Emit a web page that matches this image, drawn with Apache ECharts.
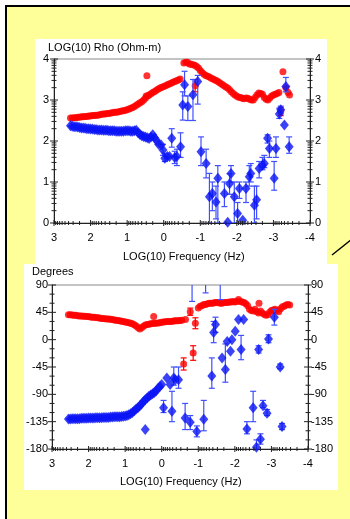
<!DOCTYPE html>
<html><head><meta charset="utf-8">
<script src="https://cdn.jsdelivr.net/npm/echarts@6/dist/echarts.min.js"></script>
<style>html,body{margin:0;padding:0;background:#fff}#c{width:350px;height:519px}</style>
</head><body><div id="c"></div>
<script>
// ---------- DATA (log10 frequency, value) ----------
const rhoTitle = 'LOG(10) Rho (Ohm-m)';
const phaseTitle = 'Degrees';
const xTitle = 'LOG(10) Frequency (Hz)';
const xTicks = [3, 2, 1, 0, -1, -2, -3, -4];
const rhoTicks = [0, 1, 2, 3, 4];
const phaseTicks = [-180, -135, -90, -45, 0, 45, 90];

// Apparent resistivity, red (one component)
const rhoRed = [[2.55,2.56],[2.50,2.56],[2.45,2.57],[2.40,2.57],[2.35,2.58],[2.30,2.58],[2.25,2.59],[2.20,2.59],[2.15,2.60],[2.10,2.60],[2.05,2.61],[2.00,2.61],[1.95,2.62],[1.90,2.62],[1.85,2.63],[1.80,2.63],[1.75,2.64],[1.70,2.65],[1.65,2.66],[1.60,2.66],[1.55,2.67],[1.50,2.67],[1.45,2.68],[1.40,2.69],[1.35,2.70],[1.30,2.70],[1.25,2.71],[1.20,2.72],[1.15,2.73],[1.10,2.74],[1.05,2.75],[1.00,2.76],[0.95,2.78],[0.90,2.80],[0.85,2.82],[0.80,2.84],[0.75,2.87],[0.70,2.90],[0.65,2.93],[0.60,2.96],[0.55,3.00],[0.50,3.04],[0.48,3.10],[0.46,3.59],[0.44,3.10],[0.40,3.12],[0.35,3.15],[0.30,3.18],[0.25,3.21],[0.20,3.24],[0.15,3.27],[0.10,3.29],[0.05,3.31],[0.00,3.33],[-0.05,3.35],[-0.10,3.37],[-0.15,3.39],[-0.20,3.41],[-0.25,3.43],[-0.30,3.45],[-0.35,3.47],[-0.40,3.49],[-0.45,3.51],[-0.55,3.90],[-0.60,3.92],[-0.65,3.92],[-0.70,3.88],[-0.75,3.87],[-0.80,3.86],[-0.85,3.85],[-0.86,3.35],[-0.90,3.82],[-0.95,3.78],[-1.00,3.72],[-1.05,3.67],[-1.10,3.63],[-1.15,3.60],[-1.20,3.58],[-1.25,3.56],[-1.30,3.53],[-1.35,3.51],[-1.40,3.49],[-1.45,3.47],[-1.50,3.44],[-1.55,3.41],[-1.60,3.38],[-1.65,3.35],[-1.70,3.32],[-1.75,3.29],[-1.80,3.25],[-1.85,3.20],[-1.90,3.16],[-1.95,3.12],[-2.00,3.09],[-2.05,3.07],[-2.10,3.06],[-2.15,3.04],[-2.20,3.03],[-2.25,3.05],[-2.30,3.04],[-2.35,3.02],[-2.40,3.00],[-2.45,3.00],[-2.50,3.06],[-2.55,3.12],[-2.60,3.17],[-2.65,3.16],[-2.70,3.14],[-2.75,3.06],[-2.80,3.02],[-2.85,3.00],[-2.90,3.05],[-2.95,3.10],[-3.00,3.12],[-3.05,3.14],[-3.10,3.16],[-3.15,3.18],[-3.20,2.72],[-3.26,3.69],[-3.34,3.30],[-3.40,3.18],[-3.44,3.12]];
const rhoRedErr = [[-0.86,3.20,3.50],[-3.20,2.62,2.82]];

// Apparent resistivity, blue (other component)
const rhoBlue = [[2.55,2.37],[2.50,2.36],[2.45,2.35],[2.40,2.35],[2.35,2.34],[2.30,2.33],[2.25,2.32],[2.20,2.32],[2.15,2.31],[2.10,2.30],[2.05,2.30],[2.00,2.29],[1.95,2.29],[1.90,2.28],[1.85,2.28],[1.80,2.27],[1.75,2.27],[1.70,2.27],[1.65,2.26],[1.60,2.26],[1.55,2.26],[1.50,2.25],[1.45,2.25],[1.40,2.25],[1.35,2.25],[1.30,2.24],[1.25,2.24],[1.20,2.24],[1.15,2.24],[1.10,2.24],[1.05,2.25],[1.00,2.25],[0.95,2.25],[0.90,2.24],[0.85,2.24],[0.80,2.25],[0.75,2.26],[0.70,2.20],[0.65,2.16],[0.60,2.13],[0.55,2.11],[0.50,2.10],[0.45,2.08],[0.40,2.06],[0.35,2.10],[0.30,2.15],[0.25,2.08],[0.20,2.02],[0.14,1.92],[0.07,1.90],[0.02,1.78],[-0.03,1.58],[-0.10,1.62],[-0.16,1.62],[-0.22,2.07],[-0.30,1.60],[-0.36,1.62],[-0.46,1.86],[-0.52,2.88],[-0.57,3.37],[-0.66,2.84],[-0.80,3.13],[-0.93,3.45],[-1.02,1.74],[-1.16,1.45],[-1.25,0.64],[-1.33,0.72],[-1.43,0.51],[-1.48,1.09],[-1.66,0.72],[-1.75,0.02],[-1.80,0.96],[-1.84,1.21],[-1.93,0.64],[-2.02,0.23],[-2.07,0.84],[-2.16,0.07],[-2.25,0.84],[-2.34,1.13],[-2.38,1.21],[-2.48,0.43],[-2.54,0.57],[-2.61,1.33],[-2.70,1.41],[-2.75,1.45],[-2.84,2.07],[-2.89,1.82],[-3.02,1.09],[-3.07,1.82],[-3.16,2.66],[-3.20,2.76],[-3.30,2.39],[-3.34,3.33],[-3.43,1.86]];
const rhoBlueErr = [[0.02,1.65,1.92],[-0.03,1.50,1.70],[-0.22,1.85,2.30],[-0.30,1.45,1.75],[-0.36,1.40,1.80],[-0.46,1.60,2.20],[-0.52,2.51,3.20],[-0.57,3.10,3.70],[-0.66,2.50,3.10],[-0.80,2.50,3.50],[-0.93,2.90,3.60],[-1.02,1.40,2.10],[-1.16,1.10,1.80],[-1.25,0.00,1.21],[-1.33,0.30,1.00],[-1.43,0.10,0.90],[-1.48,0.00,1.40],[-1.66,0.40,1.00],[-1.80,0.70,1.20],[-1.84,1.00,1.40],[-1.93,0.00,1.00],[-2.02,0.00,0.50],[-2.07,0.60,1.00],[-2.25,0.50,1.00],[-2.34,0.90,1.40],[-2.38,1.00,1.45],[-2.48,0.00,0.90],[-2.54,0.10,0.90],[-2.61,1.10,1.50],[-2.70,1.30,1.60],[-2.75,1.35,1.65],[-2.84,1.95,2.15],[-2.89,1.60,2.00],[-3.02,0.80,1.50],[-3.07,1.60,2.10],[-3.16,2.55,2.80],[-3.20,2.70,2.85],[-3.34,3.20,3.55],[-3.43,1.70,2.10]];

// Phase, red
const phaseRed = [[2.55,41],[2.50,41],[2.45,40.5],[2.40,40],[2.35,40],[2.30,39.5],[2.25,39],[2.20,39],[2.15,38.5],[2.10,38.5],[2.05,38],[2.00,38],[1.95,37.5],[1.90,37],[1.85,37],[1.80,36.5],[1.75,36],[1.70,35.5],[1.65,35],[1.60,35],[1.55,34.5],[1.50,34],[1.45,34],[1.40,33.5],[1.35,33],[1.30,32.5],[1.25,32],[1.20,31.5],[1.15,31],[1.10,30.5],[1.05,30],[1.00,29],[0.95,28.5],[0.90,28],[0.85,27],[0.80,26],[0.75,24.5],[0.70,22.5],[0.65,20],[0.60,17.5],[0.55,19.5],[0.50,22],[0.45,24],[0.40,25],[0.35,25.5],[0.30,26],[0.25,26.5],[0.22,38],[0.20,27],[0.15,27],[0.10,27.5],[0.05,28],[0.00,28.5],[-0.05,29],[-0.10,29.5],[-0.15,30],[-0.20,30],[-0.25,30],[-0.30,30.5],[-0.35,31],[-0.40,31],[-0.45,31],[-0.50,31.5],[-0.55,32],[-0.60,-40],[-0.65,33],[-0.78,46],[-0.86,-22],[-0.92,27],[-1.00,52],[-1.05,55],[-1.10,56],[-1.15,58],[-1.20,58],[-1.25,59],[-1.30,60],[-1.35,60],[-1.40,60],[-1.45,61],[-1.50,61],[-1.55,61],[-1.60,60],[-1.65,60],[-1.70,61],[-1.75,61],[-1.80,61],[-1.85,62],[-1.90,62],[-1.95,63],[-2.00,62],[-2.05,63],[-2.10,66],[-2.15,63],[-2.20,62],[-2.25,61],[-2.30,59],[-2.35,56],[-2.40,50],[-2.45,48],[-2.50,47],[-2.55,50],[-2.60,46],[-2.65,44],[-2.66,60],[-2.70,47],[-2.75,44],[-2.80,42],[-2.85,40],[-2.90,41],[-2.95,45],[-3.00,48],[-3.05,49],[-3.10,50],[-3.15,48],[-3.20,46],[-3.25,51],[-3.30,54],[-3.35,55],[-3.40,57],[-3.45,58],[-3.50,57]];
const phaseRedErr = [[-0.60,-50,-30],[-0.78,40,52],[-0.86,-34,-10],[-0.92,18,36]];

// Phase, blue
const phaseBlue = [[2.55,-130.5],[2.50,-130.5],[2.45,-130],[2.40,-130],[2.35,-130],[2.30,-130],[2.25,-130],[2.20,-129.5],[2.15,-129.5],[2.10,-129.5],[2.05,-129.5],[2.00,-129],[1.95,-129],[1.90,-129],[1.85,-129],[1.80,-128.5],[1.75,-128.5],[1.70,-128.5],[1.65,-128.5],[1.60,-128],[1.55,-128],[1.50,-128],[1.45,-128],[1.40,-127.5],[1.35,-127.5],[1.30,-127],[1.25,-127],[1.20,-127],[1.15,-127],[1.10,-126.5],[1.05,-126],[1.00,-125.5],[0.95,-125],[0.90,-123.5],[0.85,-122],[0.80,-120],[0.75,-117],[0.70,-114],[0.65,-112],[0.60,-109],[0.55,-106],[0.50,-102],[0.45,-148],[0.45,-99],[0.40,-96],[0.35,-93],[0.30,-91],[0.25,-89],[0.20,-87],[0.15,-84],[0.10,-80],[0.05,-77],[0.00,-74],[-0.05,-112],[-0.14,-63],[-0.23,-74],[-0.28,-118],[-0.33,-63],[-0.37,-66],[-0.46,-66],[-0.64,-129],[-0.78,-136],[-0.83,110],[-0.96,-151],[-1.15,-131],[-1.20,120],[-1.37,-60],[-1.42,12],[-1.47,25],[-1.60,115],[-1.65,-30],[-1.74,-49],[-1.79,-3],[-1.88,-19],[-1.92,0],[-2.01,14],[-2.10,33],[-2.17,-16],[-2.24,33],[-2.33,-147],[-2.50,-112],[-2.59,-177],[-2.65,-16],[-2.70,-164],[-2.77,-109],[-2.88,-121],[-2.92,1],[-3.08,37],[-3.24,-45],[-3.29,-143]];
const phaseBlueErr = [[-0.05,-120,-100],[-0.28,-135,-85],[-0.33,-75,-45],[-0.46,-80,-45],[-0.64,-148,-105],[-0.78,-148,-125],[-0.83,63,160],[-0.96,-160,-142],[-1.15,-150,-100],[-1.20,77,160],[-1.37,-80,-30],[-1.42,-5,30],[-1.47,12,37],[-1.60,66,160],[-1.74,-70,-7],[-2.17,-33,7],[-2.33,-155,-135],[-2.50,-135,-85],[-2.59,-185,-165],[-2.65,-22,-10],[-2.70,-172,-155],[-2.77,-112,-100],[-2.88,-125,-115],[-2.92,-5,8],[-3.08,24,50],[-3.24,-48,-40],[-3.29,-148,-138]];

// ---------- TICKS ----------
function logMinor(lo, hi) { const out = []; for (let d = lo; d < hi; d++) for (let k = 2; k <= 9; k++) out.push(d + Math.log10(k)); return out; }
const X0 = 3, X1 = -4;
function tickItems(yMin, yMax, yMajor, yMinor) {
  const items = [];
  xTicks.forEach(v => items.push([v, yMin, 1, 3]));
  logMinor(-4, 3).forEach(v => items.push([v, yMin, 1, 2]));
  [X0, X1].forEach(x => {
    yMajor.forEach(v => items.push([x, v, 0, 4]));
    yMinor.forEach(v => items.push([x, v, 0, 2.5]));
  });
  return items;
}
const phaseMinor = [];
for (let v = -165; v < 90; v += 15) if (v % 45 !== 0) phaseMinor.push(v);

const tickRender = (params, api) => {
  const p = api.coord([api.value(0), api.value(1)]);
  const o = api.value(2), L = api.value(3);
  const shape = o === 1 ? {x1: p[0], y1: p[1] - L, x2: p[0], y2: p[1] + L} : {x1: p[0] - L, y1: p[1], x2: p[0] + L, y2: p[1]};
  return {type: 'line', shape, style: {stroke: '#222', lineWidth: 1}};
};
const errRender = (color) => (params, api) => {
  const a = api.coord([api.value(0), api.value(1)]);
  const b = api.coord([api.value(0), api.value(2)]);
  const w = 3;
  return {type: 'group', children: [
    {type: 'line', shape: {x1: a[0], y1: a[1], x2: b[0], y2: b[1]}, style: {stroke: color, lineWidth: 1.2}},
    {type: 'line', shape: {x1: a[0] - w, y1: a[1], x2: a[0] + w, y2: a[1]}, style: {stroke: color, lineWidth: 1.2}},
    {type: 'line', shape: {x1: b[0] - w, y1: b[1], x2: b[0] + w, y2: b[1]}, style: {stroke: color, lineWidth: 1.2}}
  ]};
};

const FONT = 'Liberation Sans, Arial, sans-serif';
const RED = '#ff0000', BLUE = '#0a14f5', BLUE_ERR = '#4050ff';
const axisLabel = {color: '#000', fontSize: 11, fontFamily: FONT};
function xAx(gi) {
  return {gridIndex: gi, type: 'value', min: -4, max: 3, interval: 1, inverse: true,
    axisLine: {onZero: false, lineStyle: {color: '#222', width: 1}}, axisTick: {show: false}, splitLine: {show: false},
    axisLabel: Object.assign({margin: 9}, axisLabel)};
}
function yAx(gi, min, max, interval, pos, margin) {
  return {gridIndex: gi, type: 'value', min, max, interval, position: pos,
    axisLine: {show: true, onZero: false, lineStyle: {color: '#222', width: 1}}, axisTick: {show: false}, splitLine: {show: false},
    axisLabel: Object.assign({margin}, axisLabel)};
}

const chart = echarts.init(document.getElementById('c'), null, {renderer: 'canvas'});
chart.setOption({
  animation: false,
  backgroundColor: '#fff',
  graphic: {elements: [
    {type: 'rect', z: -10, shape: {x: 6, y: 6, width: 360, height: 530}, style: {fill: '#ffff99', stroke: '#000', lineWidth: 2}},
    {type: 'rect', z: -9, shape: {x: 35, y: 39, width: 292, height: 226}, style: {fill: '#fff'}},
    {type: 'rect', z: -9, shape: {x: 24, y: 264, width: 314, height: 226}, style: {fill: '#fff'}},
    {type: 'line', z: -8, shape: {x1: 332, y1: 255, x2: 352, y2: 239}, style: {stroke: '#000', lineWidth: 1.5}},
    {type: 'text', left: 48, top: 42, style: {text: rhoTitle, fill: '#000', font: '11px ' + FONT}},
    {type: 'text', left: 32, top: 266, style: {text: phaseTitle, fill: '#000', font: '11px ' + FONT}},
    {type: 'text', left: 123, top: 251, style: {text: xTitle, fill: '#000', font: '11px ' + FONT}},
    {type: 'text', left: 120, top: 476, style: {text: xTitle, fill: '#000', font: '11px ' + FONT}}
  ]},
  grid: [
    {left: 54, top: 59, width: 256, height: 164, show: true, borderColor: '#888', borderWidth: 1, backgroundColor: 'transparent'},
    {left: 52, top: 285, width: 256, height: 164, show: true, borderColor: '#888', borderWidth: 1, backgroundColor: 'transparent'}
  ],
  xAxis: [xAx(0), xAx(1)],
  yAxis: [
    yAx(0, 0, 4, 1, 'left', 5), yAx(0, 0, 4, 1, 'right', 5),
    yAx(1, -180, 90, 45, 'left', 4), yAx(1, -180, 90, 45, 'right', 3)
  ],
  series: [
    {type: 'custom', xAxisIndex: 0, yAxisIndex: 0, renderItem: tickRender, data: tickItems(0, 4, rhoTicks, logMinor(0, 4)), silent: true, z: 5},
    {type: 'custom', xAxisIndex: 1, yAxisIndex: 2, renderItem: tickRender, data: tickItems(-180, 90, phaseTicks, phaseMinor), silent: true, z: 5},
    {type: 'custom', xAxisIndex: 0, yAxisIndex: 0, renderItem: errRender(RED), data: rhoRedErr, clip: true, z: 3},
    {type: 'scatter', xAxisIndex: 0, yAxisIndex: 0, data: rhoRed, symbol: 'circle', symbolSize: 7, itemStyle: {color: RED}, clip: true, z: 3},
    {type: 'custom', xAxisIndex: 0, yAxisIndex: 0, renderItem: errRender(BLUE_ERR), data: rhoBlueErr, clip: true, z: 4},
    {type: 'scatter', xAxisIndex: 0, yAxisIndex: 0, data: rhoBlue, symbol: 'diamond', symbolSize: [9, 11], itemStyle: {color: BLUE}, clip: true, z: 4},
    {type: 'custom', xAxisIndex: 1, yAxisIndex: 2, renderItem: errRender(RED), data: phaseRedErr, clip: true, z: 3},
    {type: 'scatter', xAxisIndex: 1, yAxisIndex: 2, data: phaseRed, symbol: 'circle', symbolSize: 7, itemStyle: {color: RED}, clip: true, z: 3},
    {type: 'custom', xAxisIndex: 1, yAxisIndex: 2, renderItem: errRender(BLUE_ERR), data: phaseBlueErr, clip: true, z: 4},
    {type: 'scatter', xAxisIndex: 1, yAxisIndex: 2, data: phaseBlue, symbol: 'diamond', symbolSize: [9, 11], itemStyle: {color: BLUE}, clip: true, z: 4}
  ]
});
</script></body></html>
